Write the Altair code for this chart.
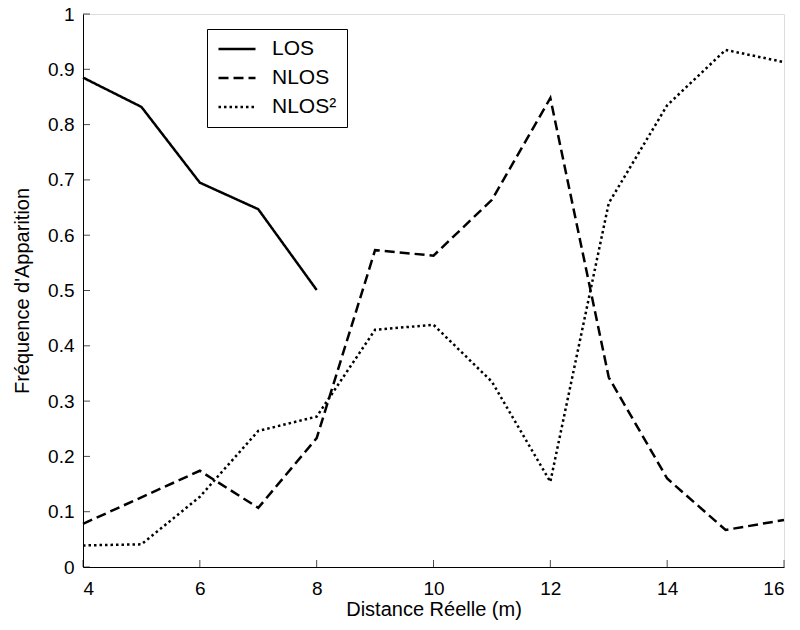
import altair as alt
import pandas as pd

distance = list(range(4, 17))
los_x = [4, 5, 6, 7, 8]
los = [0.885, 0.832, 0.695, 0.647, 0.501]
nlos = [0.078, 0.126, 0.174, 0.107, 0.233, 0.573, 0.563, 0.664, 0.848, 0.343, 0.160, 0.067, 0.085]
nlos2 = [0.039, 0.041, 0.127, 0.246, 0.272, 0.429, 0.438, 0.335, 0.154, 0.658, 0.835, 0.935, 0.913]
series_names = ["LOS", "NLOS", "NLOS²"]
x_ticks = [4, 6, 8, 10, 12, 14, 16]
y_ticks = [0, 0.1, 0.2, 0.3, 0.4, 0.5, 0.6, 0.7, 0.8, 0.9, 1.0]

rows = []
for x, v in zip(los_x, los):
    rows.append({"d": x, "f": v, "s": series_names[0]})
for x, v in zip(distance, nlos):
    rows.append({"d": x, "f": v, "s": series_names[1]})
for x, v in zip(distance, nlos2):
    rows.append({"d": x, "f": v, "s": series_names[2]})
df = pd.DataFrame(rows)

W, H = 701, 553
FONT = "Liberation Sans"

xscale = alt.Scale(domain=[4, 16], nice=False, zero=False)
yscale = alt.Scale(domain=[0, 1], nice=False)

lines = alt.Chart(df).mark_line(strokeWidth=2.5, color="black", strokeJoin="miter", strokeCap="butt").encode(
    x=alt.X("d:Q", scale=xscale, title="Distance Réelle (m)",
            axis=alt.Axis(values=x_ticks, format="d", ticks=False, grid=False,
                          domainColor="black", domainWidth=1,
                          labelFont=FONT, labelFontSize=19, labelColor="black", labelPadding=12,
                          titleFont=FONT, titleFontSize=20, titleFontWeight="normal",
                          titleColor="black", titlePadding=1)),
    y=alt.Y("f:Q", scale=yscale, title="Fréquence d'Apparition",
            axis=alt.Axis(values=y_ticks, format=".1~f", ticks=False, grid=False,
                          domainColor="black", domainWidth=1,
                          labelFont=FONT, labelFontSize=19, labelColor="black", labelPadding=9,
                          titleFont=FONT, titleFontSize=20, titleFontWeight="normal",
                          titleColor="black", titlePadding=15)),
    strokeDash=alt.StrokeDash("s:N",
        scale=alt.Scale(domain=series_names, range=[[1, 0], [10, 5], [2.5, 3]]),
        sort=series_names,
        legend=alt.Legend(orient="none", legendX=124, legendY=15, title=None,
                          strokeColor="black", fillColor="white", padding=10,
                          symbolType="stroke", symbolSize=1369, symbolStrokeWidth=2.5,
                          symbolStrokeColor="black", clipHeight=20, rowPadding=8,
                          labelFont=FONT, labelFontSize=21, labelColor="black",
                          labelOffset=15, cornerRadius=0)),
    detail="s:N",
    order="d:Q",
)

xt = alt.Chart(pd.DataFrame({"t": x_ticks})).mark_tick(orient="vertical", color="black", thickness=1, size=7).encode(
    x=alt.X("t:Q", scale=xscale), y=alt.value(H - 3.5))
yt = alt.Chart(pd.DataFrame({"t": y_ticks})).mark_tick(orient="horizontal", color="black", thickness=1, size=7).encode(
    y=alt.Y("t:Q", scale=yscale), x=alt.value(3.5))

chart = alt.layer(lines, xt, yt).properties(
    width=W, height=H,
    autosize=alt.AutoSizeParams(type="none"),
    padding={"left": 75, "top": 6, "right": 8, "bottom": 55},
).configure_view(stroke=None).configure(background="white")

chart.save("out.html", embed_options={"renderer": "svg", "actions": False})
